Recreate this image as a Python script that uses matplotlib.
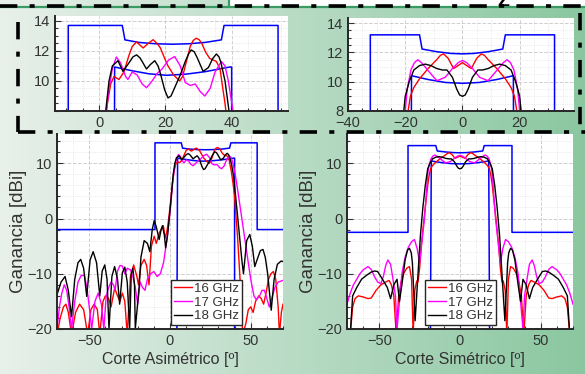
import numpy as np
import matplotlib
matplotlib.use("Agg")
import matplotlib.pyplot as plt
from matplotlib.ticker import AutoMinorLocator

plt.rcParams['font.family'] = ['Liberation Sans', 'DejaVu Sans']
plt.rcParams['text.color'] = '#333333'
plt.rcParams['axes.labelcolor'] = '#333333'
plt.rcParams['xtick.color'] = '#333333'
plt.rcParams['ytick.color'] = '#333333'

# ---- Corte asimetrico: (angulo, ganancia dBi) ----
asym_16 = [(-70, -21), (-68, -18), (-66, -16), (-64.5, -15.5), (-63, -17), (-61, -21), (-58.5, -17),
           (-56, -15.5), (-53.5, -16.5), (-51, -21), (-49, -16.5), (-47, -15.5), (-45, -16.5), (-43.5, -21),
           (-41.5, -15), (-40, -14), (-38, -14.5), (-36.5, -16), (-34.3, -12.6), (-32.5, -14), (-31, -15),
           (-29.5, -13.5), (-28, -15), (-26.5, -21), (-24.5, -10.5), (-22.5, -8.4), (-20.5, -10.5),
           (-19.5, -12), (-18, -8.5), (-16, -7.4), (-14.5, -8.5), (-13, -12), (-11.5, -5), (-9.8, -3.2),
           (-8.5, -4.5), (-6.5, -2.5), (-4.1, -1.3), (-3, -3.5), (-2, -2.5), (-1, -0.5), (0, 2), (1.5, 6.5),
           (2.5, 8.5), (3.5, 9.8), (4.5, 10.3), (6, 10.1), (7.5, 10.6), (9, 11.7), (10, 12.3), (11.3, 12.6),
           (12.3, 12.4), (13.3, 12.2), (14.8, 12.5), (16.3, 12.75), (17.5, 12.5), (18.5, 12.2), (19.8, 11.5),
           (20.8, 11.0), (22.5, 10.4), (24.3, 10.0), (25.2, 10.3), (26, 11.0), (27.5, 12.3), (28.4, 12.7),
           (29.3, 12.85), (30.2, 12.75), (31, 12.5), (32.2, 11.9), (33.4, 11.5), (35.4, 11.3), (36.5, 10.8),
           (37.2, 9.7), (38, 8.5), (39, 6.5), (40, 4), (41, 0), (42, -4), (43, -9), (44, -14), (45, -21),
           (47, -19), (48.5, -16.5), (50, -16), (51.5, -17), (53, -15), (55, -14), (56.5, -14.5), (58, -15.5),
           (59.5, -13.5), (61, -11), (62.5, -10), (64, -9.6), (65.5, -11), (67, -16), (67.8, -21), (69, -17),
           (70, -15.5)]

asym_17 = [(-70, -20), (-68.5, -16), (-67, -13.5), (-65.5, -12), (-64, -13), (-62.5, -16), (-61, -20),
           (-59, -15), (-57, -11.5), (-55, -10.3), (-53, -10.3), (-51.5, -12.5), (-50, -16), (-48.5, -20),
           (-46.5, -15), (-44.5, -13.5), (-42.5, -15.5), (-41, -20), (-39.5, -14), (-38, -12.5),
           (-36.5, -11.5), (-35, -12), (-34, -13), (-32.5, -9.5), (-31, -8.5), (-29.5, -8.6), (-28, -10),
           (-26.5, -9), (-24.5, -9.3), (-23, -10.5), (-21.5, -12.5), (-20, -15.5), (-18.5, -11.5),
           (-17, -12.5), (-15.5, -13), (-14, -11), (-12, -10), (-10, -9.6), (-8, -10.5), (-6, -10), (-4, -8),
           (-2, -4), (0, 1), (1.5, 6), (2.2, 8.0), (3, 9.5), (4, 10.8), (5.2, 11.6), (6.5, 11.2), (8, 10.3),
           (8.7, 10.1), (10, 10.6), (11.5, 10.4), (13, 9.8), (14.3, 9.55), (16, 10.0), (17.5, 10.5),
           (19, 10.8), (21, 11.4), (22.8, 11.63), (24.5, 11.0), (26, 9.9), (27.5, 9.7), (29, 9.8), (30.5, 9.3),
           (31.9, 9.0), (33.5, 9.5), (35, 10.6), (36.9, 11.3), (38, 11.0), (39, 10.0), (40.4, 8.0), (42, 5),
           (44, 1), (46, -3), (48, -7), (50, -11), (52, -14), (53.5, -14.7), (55.5, -14), (57, -13),
           (58.5, -13), (60, -14.5), (61.5, -16), (63, -14.5), (65, -12.5), (67, -11.5), (70, -11.2)]

asym_18 = [(-70, -13.8), (-67.5, -11.5), (-65, -10.5), (-63, -13), (-61, -17.8), (-59, -11), (-57, -8),
           (-55.3, -7.4), (-53.5, -9), (-51.6, -14.1), (-49.5, -7.5), (-47.6, -6.0), (-45.5, -8), (-43.5, -14),
           (-42, -9.5), (-40.4, -8.4), (-39, -11), (-37.8, -20), (-36, -10.5), (-34.3, -8.7), (-32.5, -11),
           (-31.2, -15.5), (-29.5, -9.8), (-28, -8.8), (-26.5, -11.5), (-25, -20), (-24, -10), (-23, -9),
           (-22, -12), (-21.5, -20), (-19, -12), (-18, -7), (-16, -4), (-14, -4.5), (-12.5, -6), (-11, -2),
           (-9.8, -0.4), (-8.5, -1.5), (-6.7, -3.8), (-5.5, -2), (-4.7, -1.3), (-3.5, -3), (-2.7, -5.3),
           (-1.5, -3), (-0.5, 0), (0.5, 3), (2, 8), (3, 10), (4, 11.0), (5.7, 11.35), (7.2, 10.64), (9, 11.2),
           (10.2, 11.6), (11.3, 11.74), (12.3, 11.55), (13, 11.3), (14.3, 10.8), (15.5, 11.1), (16.8, 11.35),
           (17.8, 11.0), (18.5, 10.5), (19.8, 9.4), (20.8, 8.87), (21.7, 9.0), (22.5, 9.4), (24.5, 10.4),
           (26, 11.3), (27, 11.8), (27.8, 12.07), (28.7, 11.95), (29.5, 11.6), (31.4, 10.64), (33, 10.9),
           (34.3, 11.5), (35.4, 11.8), (36.2, 11.6), (36.8, 11.2), (38, 10.0), (39.2, 8.0), (40.5, 4.5),
           (42, 0), (43, -3), (44.5, -7.5), (45.5, -10), (46.5, -7), (47.5, -4), (49.4, -2.9), (51, -5),
           (52.5, -8.7), (54.5, -7), (56, -5.8), (57.6, -5.6), (59, -7), (60.5, -10), (62.7, -16.6),
           (64.5, -11), (66.5, -8.3), (68.8, -7.7), (70, -7.8)]

asym_mask_up = [(-70, -2), (-9.3, -2), (-9.3, 13.7), (7.0, 13.7), (7.8, 12.74), (12, 12.57), (17, 12.48),
                (22.3, 12.45), (27, 12.48), (32, 12.57), (36.9, 12.74), (37.7, 13.7), (54, 13.7), (54, -2),
                (70, -2)]
asym_mask_lo = [(4.2, -25), (4.7, 10.93), (10, 10.68), (15, 10.48), (20.3, 10.38), (26, 10.45), (32, 10.62),
                (39.4, 10.93), (40, 10.93), (40, -25)]

# ---- Corte simetrico ----
sym_16 = [(-70, -21), (-68, -21), (-66.5, -16), (-65, -14.5), (-63, -14), (-60, -14.2), (-57, -14.5),
          (-55, -14.4), (-52, -13), (-49, -12), (-46, -11.5), (-44, -11.2), (-42.5, -12), (-41, -14),
          (-39.5, -21), (-38, -14), (-36.5, -11.5), (-35, -10), (-33, -9), (-31.3, -8.7), (-30, -11),
          (-29, -21), (-28, -13), (-26.8, -11.3), (-26, -11.5), (-25, -9), (-24, -5), (-23, -2), (-21.5, 2),
          (-20, 6), (-19, 8), (-18.2, 9.0), (-17, 9.6), (-15, 10.2), (-12, 10.9), (-9, 11.5), (-7.7, 11.8),
          (-6.6, 11.9), (-5, 11.6), (-3.1, 10.9), (-1.5, 11.1), (0, 11.3), (1.5, 11.1), (3.1, 10.9),
          (5, 11.6), (6.6, 11.9), (7.7, 11.8), (9, 11.5), (12, 10.9), (15, 10.2), (17, 9.6), (18.2, 9.0),
          (19, 8), (20, 6), (21.5, 2), (23, -2), (24, -5), (25, -9), (26, -11.5), (26.8, -11.3), (28, -13),
          (29, -21), (30, -11), (31.3, -8.7), (33, -9), (35, -10), (36.5, -11.5), (38, -14), (39.5, -21),
          (41, -14), (42.5, -12), (44, -11.2), (46, -11.5), (49, -12), (52, -13), (55, -14.4), (57, -14.5),
          (60, -14.2), (63, -14), (65, -14.5), (66.5, -16), (68, -21), (70, -21)]

sym_17 = [(-70, -15.5), (-68, -13.5), (-66, -12), (-64, -11), (-62, -10), (-60, -9.3), (-57, -8.7),
          (-55, -9.2), (-53, -10.5), (-51, -11.5), (-49, -11.8), (-47.5, -10.5), (-46, -8.5), (-44.7, -7.5),
          (-43, -8.3), (-41.5, -11), (-40, -14), (-39, -20), (-37.5, -15), (-36, -10), (-34, -7), (-32, -5.2),
          (-30, -4.2), (-28.2, -3.8), (-26.5, -5.5), (-25, -8.1), (-23.5, -4), (-22, 0), (-21, 4), (-20, 8),
          (-19.3, 9.5), (-18, 10.8), (-16.8, 11.3), (-15.6, 11.5), (-14.3, 11.3), (-13, 11.0), (-10, 10.3),
          (-8.9, 10.07), (-6, 10.3), (-3.5, 10.9), (-1.5, 11.3), (0, 11.45), (1.5, 11.3), (3.5, 10.9),
          (6, 10.3), (8.9, 10.07), (10, 10.3), (13, 11.0), (14.3, 11.3), (15.6, 11.5), (16.8, 11.3),
          (18, 10.8), (19.3, 9.5), (20, 8), (21, 4), (22, 0), (23.5, -4), (25, -8.1), (26.5, -5.5),
          (28.2, -3.8), (30, -4.2), (32, -5.2), (34, -7), (36, -10), (37.5, -15), (39, -20), (40, -14),
          (41.5, -11), (43, -8.3), (44.7, -7.5), (46, -8.5), (47.5, -10.5), (49, -11.8), (51, -11.5),
          (53, -10.5), (55, -9.2), (57, -8.7), (60, -9.3), (62, -10), (64, -11), (66, -12), (68, -13.5),
          (70, -15.5)]

sym_18 = [(-70, -21), (-68, -21), (-66.5, -14), (-64, -12.5), (-61, -11), (-58, -10.3), (-55, -9.7),
          (-53, -9.5), (-51, -9.6), (-49.5, -10.3), (-48, -11), (-45, -12.5), (-43, -14.5), (-41, -12),
          (-39, -11), (-37.5, -15), (-36, -12), (-34, -7.5), (-32.5, -5.7), (-31.3, -5.4), (-30.2, -6.2),
          (-29.5, -8), (-27.8, -18.5), (-26, -10), (-24.5, -3), (-23, 2), (-21.5, 6), (-20, 9), (-18.6, 10.0),
          (-17, 10.8), (-15, 11.1), (-13, 11.2), (-11, 11.1), (-9, 10.9), (-7, 10.8), (-5.4, 10.8),
          (-3.5, 10.3), (-2, 9.5), (-1, 9.1), (0, 9.0), (1, 9.1), (2, 9.5), (3.5, 10.3), (5.4, 10.8),
          (7, 10.8), (9, 10.9), (11, 11.1), (13, 11.2), (15, 11.1), (17, 10.8), (18.6, 10.0), (20, 9),
          (21.5, 6), (23, 2), (24.5, -3), (26, -10), (27.8, -18.5), (29.5, -8), (30.2, -6.2), (31.3, -5.4),
          (32.5, -5.7), (34, -7.5), (36, -12), (37.5, -15), (39, -11), (41, -12), (43, -14.5), (45, -12.5),
          (48, -11), (49.5, -10.3), (51, -9.6), (53, -9.5), (55, -9.7), (58, -10.3), (61, -11), (64, -12.5),
          (66.5, -14), (68, -21), (70, -21)]

sym_mask_up = [(-70, -2.5), (-32.2, -2.5), (-32.2, 13.2), (-15.0, 13.2), (-14.1, 12.23), (-9, 12.05),
               (-4, 11.93), (0, 11.9), (4, 11.93), (9, 12.05), (14.1, 12.23), (15.0, 13.2), (32.2, 13.2),
               (32.2, -2.5), (70, -2.5)]
sym_mask_lo = [(-18.4, -25), (-17.8, 10.41), (-12, 10.15), (-6, 9.95), (0, 9.89), (6, 9.95), (12, 10.15),
               (17.8, 10.41), (18.4, -25)]

labels = ['16 GHz', '17 GHz', '18 GHz']
colors = ['#ff0000', '#ff00ff', '#000000']

W, H = 585, 374
fig = plt.figure(figsize=(W / 100, H / 100), dpi=100)


def px_axes(x0, y0, x1, y1, **kw):
    return fig.add_axes([x0 / W, (H - y1) / H, (x1 - x0) / W, (y1 - y0) / H], **kw)


# fondo degradado
bg = px_axes(0, 0, W, H, zorder=-10)
grad = np.linspace(0, 1, 256)
c0 = np.array([232, 240, 234]) / 255
c1 = np.array([138, 199, 160]) / 255
img = c0[None, None, :] * (1 - grad[None, :, None]) + c1[None, None, :] * grad[None, :, None]
bg.imshow(img, aspect='auto', extent=[0, W, H, 0])
bg.set_xlim(0, W)
bg.set_ylim(H, 0)
bg.axis('off')


def style(ax, xlim, ylim, xticks, yticks):
    ax.set_facecolor('white')
    ax.set_xlim(*xlim)
    ax.set_ylim(*ylim)
    ax.set_xticks(xticks)
    ax.set_yticks(yticks)
    ax.xaxis.set_minor_locator(AutoMinorLocator())
    ax.yaxis.set_minor_locator(AutoMinorLocator())
    for s in ['top', 'right']:
        ax.spines[s].set_visible(False)
    for s in ['left', 'bottom']:
        ax.spines[s].set_linewidth(1.4)
        ax.spines[s].set_color('#262626')
    ax.tick_params(which='both', direction='in', labelsize=10.5, width=0.8)
    ax.tick_params(which='major', length=4)
    ax.tick_params(which='minor', length=2)
    ax.grid(True, which='major', color='#cfcfcf', linestyle='--', linewidth=0.7)
    ax.grid(True, which='minor', color='#e2e2e2', linestyle=':', linewidth=0.6)
    ax.set_axisbelow(True)


def draw(ax, curves, up, lo):
    for mask in (up, lo):
        mx, my = zip(*mask)
        ax.plot(mx, my, color='#0000ff', lw=1.1)
    lines = []
    for data, c, lab in zip(curves, colors, labels):
        x, y = zip(*data)
        ln, = ax.plot(x, y, color=c, lw=1.0, label=lab)
        lines.append(ln)
    return lines


def legend(ax, lines, x0):
    leg = ax.legend(handles=lines, loc='lower left', bbox_to_anchor=(x0, 0), fontsize=9.5,
                    handlelength=1.4, handletextpad=0.15, borderpad=0.2, labelspacing=0.12,
                    borderaxespad=0.3, fancybox=False, framealpha=1)
    leg.get_frame().set_edgecolor('#262626')
    leg.get_frame().set_linewidth(1.0)


asym = [asym_16, asym_17, asym_18]
sym = [sym_16, sym_17, sym_18]

# insets superiores
a1 = px_axes(55, 16, 288, 111)
style(a1, (-13.3, 57), (8.0, 14.33), [0, 20, 40], [10, 12, 14])
draw(a1, asym, asym_mask_up, asym_mask_lo)

a2 = px_axes(348, 18, 574, 111)
style(a2, (-40, 39), (8.0, 14.35), [-40, -20, 0, 20], [8, 10, 12, 14])
draw(a2, sym, sym_mask_up, sym_mask_lo)

# graficas principales
b1 = px_axes(57, 134, 283, 329)
style(b1, (-70, 70), (-20, 15.3), [-50, 0, 50], [-20, -10, 0, 10])
l1 = draw(b1, asym, asym_mask_up, asym_mask_lo)
b1.set_ylabel('Ganancia [dBi]', fontsize=13.5, labelpad=0)
b1.set_xlabel('Corte Asimétrico [º]', fontsize=11.5, labelpad=3)
legend(b1, l1, 110 / 226)

b2 = px_axes(347, 134, 573, 329)
style(b2, (-70, 70), (-20, 15.3), [-50, 0, 50], [-20, -10, 0, 10])
l2 = draw(b2, sym, sym_mask_up, sym_mask_lo)
b2.set_ylabel('Ganancia [dBi]', fontsize=13.5, labelpad=0)
b2.set_xlabel('Corte Simétrico [º]', fontsize=11.5, labelpad=3)
legend(b2, l2, 74 / 226)

# decoracion: lineas de punto y raya
ov = px_axes(0, 0, W, H, zorder=20)
ov.set_xlim(0, W)
ov.set_ylim(H, 0)
ov.axis('off')
ov.fill_between([230, W], 0, 6, color='white', lw=0)
ov.plot([0, W], [7, 7], color='#3a9a62', lw=1.6)
ov.plot([229, 229], [0, 7], color='#3a9a62', lw=1.6)
ds = (0, (4.8, 3.4, 1.4, 3.4))
for xs_, ys_ in [([0, W], [6, 6]), ([18, 18], [22, 132]), ([18, W], [132, 132]), ([580, 580], [13, 132])]:
    ov.plot(xs_, ys_, color='black', lw=2.6, linestyle=ds, dash_capstyle='butt')
ov.text(503, 1, 'Z', fontsize=14, fontweight='bold', ha='center', va='center', color='black')

fig.savefig('out.png', dpi=100)
